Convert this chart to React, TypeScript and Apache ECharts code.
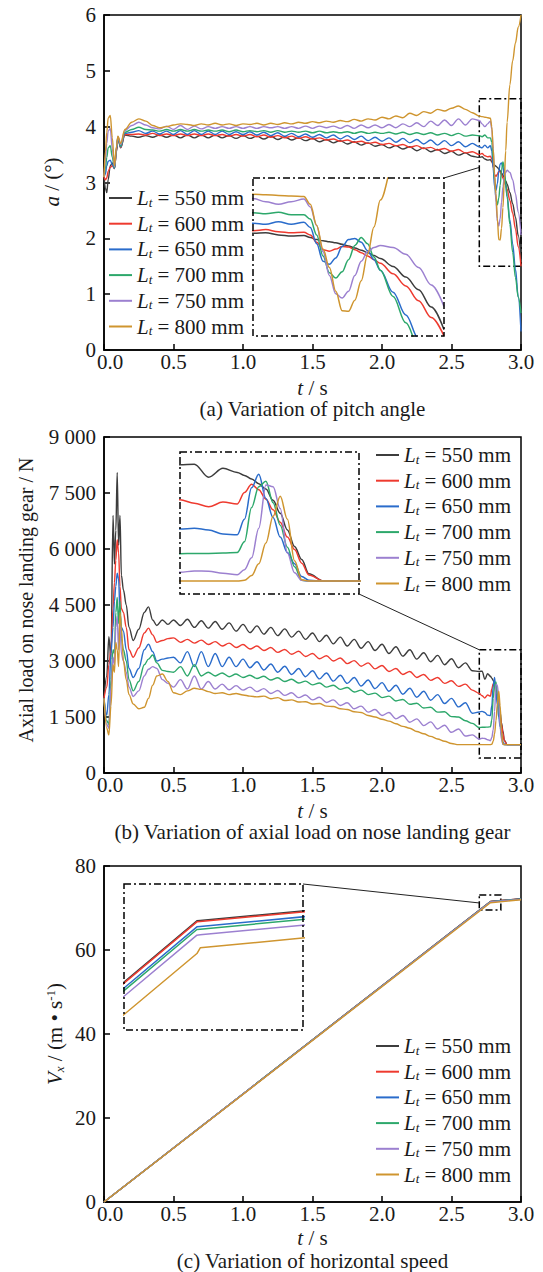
import React, { useEffect, useRef } from 'react';
import * as echarts from 'echarts';

// ---------- series names / colours ----------
const NAMES = ['550', '600', '650', '700', '750', '800'];
const COLORS = ['#3d3d3d', '#ee3a2f', '#2a6ccb', '#2da86b', '#9c80d0', '#cf952f'];

// ---------- (a) pitch angle ----------
const T_A = [
  0, 0.01, 0.02, 0.03, 0.045, 0.06, 0.075, 0.09, 0.1, 0.12, 0.15, 0.2,
  0.25, 0.3, 0.35, 0.4, 0.45, 0.5, 0.55, 0.6, 0.65, 0.7,
  0.75, 0.8, 0.85, 0.9, 0.95, 1.0, 1.05, 1.1, 1.15, 1.2,
  1.25, 1.3, 1.35, 1.4, 1.45, 1.5, 1.55, 1.6, 1.65, 1.7,
  1.75, 1.8, 1.85, 1.9, 1.95, 2.0, 2.05, 2.1, 2.15, 2.2,
  2.25, 2.3, 2.35, 2.4, 2.45, 2.5, 2.55, 2.6, 2.65,
  2.7, 2.72, 2.74, 2.76, 2.78, 2.79, 2.8, 2.81, 2.82, 2.83, 2.84, 2.85, 2.86, 2.87, 2.88, 2.89, 2.9, 2.92, 2.94, 2.96, 2.98, 3.0,
];
const A_550 = [
  3.10, 2.90, 2.82, 3.05, 3.30, 3.35, 3.25, 3.55, 3.80, 3.62, 3.85, 3.83,
  3.81, 3.84, 3.81, 3.85, 3.81, 3.85, 3.80, 3.85, 3.80, 3.85,
  3.80, 3.85, 3.80, 3.84, 3.79, 3.84, 3.79, 3.83, 3.78, 3.83,
  3.77, 3.82, 3.76, 3.80, 3.75, 3.79, 3.73, 3.77, 3.71, 3.75,
  3.69, 3.73, 3.67, 3.71, 3.65, 3.68, 3.62, 3.66, 3.60, 3.64,
  3.57, 3.62, 3.55, 3.59, 3.52, 3.56, 3.49, 3.53, 3.47,
  3.45, 3.46, 3.42, 3.40, 3.41, 3.37, 3.33, 3.31, 3.29, 3.27, 3.24, 3.21, 3.17, 3.13, 3.08, 3.03, 2.97, 2.82, 2.62, 2.38, 2.05, 1.62,
];
const A_600 = [
  3.10, 3.05, 3.08, 3.20, 3.27, 3.30, 3.25, 3.58, 3.80, 3.63, 3.86, 3.86,
  3.87, 3.85, 3.88, 3.84, 3.87, 3.84, 3.87, 3.84, 3.87, 3.84,
  3.87, 3.84, 3.86, 3.83, 3.86, 3.83, 3.86, 3.82, 3.85, 3.81,
  3.84, 3.80, 3.83, 3.79, 3.82, 3.78, 3.80, 3.76, 3.78, 3.74,
  3.76, 3.72, 3.74, 3.70, 3.72, 3.68, 3.70, 3.66, 3.68, 3.63,
  3.66, 3.61, 3.63, 3.58, 3.61, 3.56, 3.59, 3.53, 3.55,
  3.50, 3.52, 3.48, 3.46, 3.47, 3.42, 3.28, 3.14, 3.11, 3.15, 3.20, 3.19, 3.14, 3.08, 3.02, 2.95, 2.88, 2.68, 2.45, 2.17, 1.85, 1.50,
];
const A_650 = [
  3.10, 3.15, 3.30, 3.38, 3.40, 3.32, 3.25, 3.60, 3.80, 3.64, 3.88, 3.90,
  3.93, 3.88, 3.92, 3.87, 3.92, 3.86, 3.93, 3.86, 3.93, 3.86,
  3.92, 3.86, 3.92, 3.86, 3.91, 3.86, 3.91, 3.85, 3.90, 3.84,
  3.89, 3.83, 3.88, 3.82, 3.87, 3.81, 3.86, 3.80, 3.85, 3.78,
  3.84, 3.77, 3.83, 3.75, 3.81, 3.74, 3.80, 3.72, 3.79, 3.71,
  3.77, 3.69, 3.76, 3.67, 3.75, 3.66, 3.73, 3.64, 3.70,
  3.64, 3.62, 3.67, 3.62, 3.66, 3.56, 3.25, 2.92, 2.86, 2.98, 3.20, 3.33, 3.35, 3.28, 3.12, 2.95, 2.75, 2.33, 1.90, 1.45, 0.95, 0.33,
];
const A_700 = [
  3.10, 3.25, 3.45, 3.62, 3.66, 3.45, 3.26, 3.62, 3.81, 3.65, 3.90, 3.95,
  3.99, 3.95, 3.94, 3.92, 3.95, 3.92, 3.95, 3.92, 3.95, 3.92,
  3.94, 3.92, 3.94, 3.91, 3.94, 3.91, 3.93, 3.91, 3.93, 3.90,
  3.93, 3.90, 3.92, 3.90, 3.92, 3.89, 3.92, 3.89, 3.91, 3.89,
  3.91, 3.88, 3.91, 3.88, 3.90, 3.88, 3.90, 3.87, 3.90, 3.86,
  3.89, 3.86, 3.89, 3.85, 3.88, 3.84, 3.88, 3.83, 3.85,
  3.84, 3.82, 3.85, 3.80, 3.80, 3.72, 3.42, 3.02, 2.70, 2.60, 2.72, 2.95, 3.22, 3.37, 3.25, 3.00, 2.75, 2.25, 1.75, 1.30, 0.95, 0.66,
];
const A_750 = [
  3.10, 3.40, 3.70, 3.92, 3.97, 3.60, 3.28, 3.63, 3.82, 3.68, 3.93, 4.02,
  4.08, 4.03, 3.98, 3.96, 4.01, 3.95, 4.02, 3.95, 4.01, 3.96,
  4.00, 3.97, 4.00, 3.97, 4.00, 3.97, 4.00, 3.97, 4.00, 3.98,
  4.00, 3.97, 4.00, 3.97, 4.01, 3.97, 4.01, 3.98, 4.01, 3.97,
  4.02, 3.97, 4.03, 3.98, 4.03, 3.98, 4.04, 3.98, 4.05, 4.00,
  4.07, 4.00, 4.10, 4.02, 4.12, 4.02, 4.14, 4.03, 4.14,
  4.11, 4.05, 4.00, 4.05, 4.10, 3.95, 3.60, 3.10, 2.65, 2.30, 2.22, 2.35, 2.65, 2.92, 3.10, 3.18, 3.22, 3.18, 3.05, 2.80, 2.47, 2.06,
];
const A_800 = [
  3.10, 3.55, 3.90, 4.15, 4.20, 3.80, 3.30, 3.65, 3.83, 3.70, 3.95, 4.08,
  4.14, 4.10, 4.02, 3.98, 4.00, 4.03, 4.05, 4.04, 4.02, 4.05,
  4.03, 4.06, 4.03, 4.05, 4.02, 4.05, 4.04, 4.06, 4.03, 4.06,
  4.04, 4.07, 4.05, 4.08, 4.06, 4.09, 4.07, 4.10, 4.08, 4.11,
  4.09, 4.13, 4.10, 4.14, 4.12, 4.17, 4.14, 4.19, 4.16, 4.24,
  4.20, 4.27, 4.24, 4.31, 4.28, 4.33, 4.37, 4.31, 4.25,
  4.19, 4.18, 4.17, 4.16, 4.15, 4.00, 3.60, 3.15, 2.80, 2.35, 1.98, 1.97, 2.18, 2.55, 3.05, 3.57, 4.08, 4.75, 5.18, 5.50, 5.78, 6.00,
];

// ---------- (b) axial load ----------
const T_B = [
  0, 0.02, 0.035, 0.05, 0.065, 0.075, 0.085, 0.095, 0.105, 0.115, 0.125, 0.14, 0.16, 0.18, 0.21, 0.25, 0.29, 0.32, 0.35, 0.38, 0.42, 0.46,
  0.5, 0.55, 0.6, 0.65, 0.7, 0.75, 0.8, 0.85, 0.9, 0.95,
  1.0, 1.05, 1.1, 1.15, 1.2, 1.25, 1.3, 1.35, 1.4, 1.45,
  1.5, 1.55, 1.6, 1.65, 1.7, 1.75, 1.8, 1.85, 1.9, 1.95,
  2.0, 2.05, 2.1, 2.15, 2.2, 2.25, 2.3, 2.35, 2.4, 2.45,
  2.5, 2.55, 2.6, 2.65,
  2.7, 2.72, 2.74, 2.76, 2.78, 2.79, 2.8, 2.81, 2.82, 2.83, 2.84, 2.85, 2.86, 2.87, 2.88, 2.9, 2.95, 3.0,
];
const B_550 = [
  2000, 2600, 3650, 3050, 6900, 5600, 6500, 8050, 6100, 6900, 5300, 4900, 4500, 3900, 3550, 3850, 4300, 4450, 4100, 3950, 4100, 3980,
  4100, 3950, 4120, 3900, 4080, 3880, 4060, 3850, 4020, 3800,
  3980, 3760, 3940, 3720, 3900, 3680, 3860, 3640, 3800, 3580,
  3750, 3520, 3690, 3460, 3640, 3400, 3580, 3340, 3520, 3280,
  3450, 3200, 3380, 3130, 3300, 3050, 3220, 2980, 3150, 2900,
  3060, 2820, 2950, 2740,
  2720, 2730, 2510, 2660, 2590, 2540, 2480, 2400, 2310, 2120, 1900, 1620, 1340, 1120, 880, 760, 760, 760,
];
const B_600 = [
  2000, 2300, 2900, 3300, 4400, 5100, 5700, 6250, 5900, 5000, 4400, 4300, 3900, 3300, 3100, 3350, 3750, 3880, 3700, 3500, 3550, 3600,
  3620, 3500, 3580, 3480, 3560, 3440, 3520, 3400, 3480, 3360,
  3440, 3320, 3400, 3280, 3360, 3230, 3310, 3180, 3260, 3120,
  3200, 3060, 3140, 3000, 3080, 2930, 3010, 2860, 2950, 2790,
  2880, 2720, 2800, 2640, 2720, 2560, 2640, 2480, 2560, 2400,
  2470, 2320, 2380, 2220,
  2130, 2070, 2010, 2090, 2060, 2250, 2390, 2300, 2140, 1960, 1750, 1500, 1290, 1060, 860, 760, 760, 760,
];
const B_650 = [
  2000, 1550, 2100, 3200, 3900, 4600, 5000, 5350, 5200, 4300, 3900, 3800, 3300, 2800, 2560, 2800, 3300, 3450, 3250, 3000, 3050, 3080,
  3100, 2950, 3250, 2850, 3250, 2850, 3200, 2850, 3100, 2850,
  3050, 2820, 2980, 2760, 2920, 2700, 2860, 2640, 2800, 2580,
  2740, 2520, 2680, 2460, 2620, 2400, 2560, 2330, 2490, 2260,
  2420, 2190, 2350, 2110, 2270, 2030, 2190, 1950, 2100, 1860,
  2000, 1770, 1880, 1600,
  1635, 1650, 1620, 1550, 1540, 1800, 2330, 2560, 2150, 1830, 1500, 1240, 1050, 835, 770, 760, 760, 760,
];
const B_700 = [
  2000, 1400, 1300, 2500, 3300, 3200, 4300, 4700, 4000, 4600, 3600, 3300, 3000, 2500, 2200, 2450, 2900, 3050, 3160, 2950, 2750, 2720,
  2700, 2850, 2600, 2900, 2600, 2700, 2600, 2680, 2580, 2650,
  2560, 2620, 2530, 2590, 2490, 2550, 2450, 2510, 2410, 2460,
  2360, 2410, 2300, 2350, 2240, 2290, 2170, 2220, 2100, 2140,
  2020, 2060, 1930, 1970, 1840, 1870, 1740, 1760, 1630, 1640,
  1510, 1500, 1400, 1330,
  1220, 1225, 1225, 1230, 1240, 1420, 2000, 2350, 2440, 2080, 1700, 1330, 1000, 770, 760, 760, 760, 760,
];
const B_750 = [
  2000, 1300, 1200, 2300, 3100, 2900, 3900, 4200, 3300, 4100, 3200, 3000, 2700, 2300, 2050, 2200, 2600, 2780, 2850, 2800, 2500, 2400,
  2300, 2500, 2250, 2600, 2250, 2450, 2250, 2380, 2230, 2340,
  2220, 2300, 2180, 2260, 2130, 2210, 2080, 2150, 2020, 2090,
  1960, 2030, 1890, 1960, 1810, 1880, 1720, 1790, 1630, 1700,
  1540, 1620, 1450, 1540, 1360, 1450, 1270, 1370, 1180, 1280,
  1090, 1180, 990, 1020,
  905, 930, 925, 890, 865, 950, 1150, 1650, 2380, 2350, 1980, 1230, 900, 770, 760, 760, 760, 760,
];
const B_800 = [
  2000, 1200, 1020, 1800, 2900, 2700, 3500, 3300, 2850, 4300, 3900, 3000, 2500, 2100, 1850, 1720, 1760, 2000, 2350, 2600, 2650, 2450,
  2150, 2100, 2200, 2270, 2240, 2180, 2130, 2150, 2100, 2130,
  2090, 2060, 2040, 2060, 1990, 2020, 1940, 1960, 1900, 1910,
  1850, 1860, 1790, 1780, 1720, 1700, 1640, 1620, 1540, 1500,
  1440, 1390, 1320, 1250, 1200, 1110, 1050, 980, 910, 850,
  790, 760, 760, 760,
  760, 760, 760, 760, 760, 770, 850, 1050, 1400, 1850, 2190, 1800, 1100, 780, 760, 760, 760, 760,
];

// ---------- (c) horizontal speed ----------
const T_C = [0, 2.78, 2.781, 3.0];
const C_550 = [0, 71.56, 71.563, 72.19];
const C_600 = [0, 71.55, 71.553, 72.18];
const C_650 = [0, 71.504, 71.507, 72.14];
const C_700 = [0, 71.479, 71.482, 72.118];
const C_750 = [0, 71.427, 71.43, 72.066];
const C_800 = [0, 71.257, 71.31, 71.949];

const PANELS = [
  { t: T_A, s: [A_550, A_600, A_650, A_700, A_750, A_800], smooth: 0.35 },
  { t: T_B, s: [B_550, B_600, B_650, B_700, B_750, B_800], smooth: 0.35 },
  { t: T_C, s: [C_550, C_600, C_650, C_700, C_750, C_800], smooth: false },
];

// ---------- layout ----------
const FONT = 'Liberation Serif, DejaVu Serif, serif';
const TXT = '#1a1a1a';
const FS = 21;
const PL = 104;
const PR = 22;
const MAIN = [
  { top: 15, height: 335, ymax: 6, yint: 1 },
  { top: 437, height: 336, ymax: 9000, yint: 1500 },
  { top: 866, height: 336, ymax: 80, yint: 20 },
];
const INSET = [
  { left: 253, top: 178, width: 191, height: 158, x: [2.7, 3.0], y: [1.5, 4.5] },
  { left: 180, top: 452, width: 179, height: 142, x: [2.7, 2.95], y: [540, 2935] },
  { left: 124, top: 884, width: 179, height: 146, x: [2.758, 2.812], y: [70.55, 71.9] },
];
const BOXES = [
  [[2.7, 4.5], [3.0, 1.5]],
  [[2.7, 3300], [3.0, 400]],
  [[2.7, 73.1], [2.855, 69.5]],
];
const LINK_TARGET = [[2.7, 3.27], [2.7, 3300], [2.7, 71.2]];
const LEGEND_POS = [
  { left: 109, top: 187.5 },
  { left: 376, top: 444.5 },
  { left: 376, top: 1035.5 },
];
const CAPTION_Y = [[387.5, 409], [810.5, 832], [1238, 1261]];

const fmtThousands = (v: number) => {
  if (v < 1000) return String(v);
  const th = Math.floor(v / 1000);
  const r = String(v % 1000).padStart(3, '0');
  return `${th} ${r}`;
};

const zip = (t: number[], v: number[]) => t.map((x, i) => [x, v[i]]);

export default function App() {
  const ref = useRef<HTMLDivElement>(null);
  useEffect(() => {
    const chart = echarts.init(ref.current as HTMLDivElement, null, { renderer: 'svg' });

    const grid: any[] = [];
    const xAxis: any[] = [];
    const yAxis: any[] = [];
    const series: any[] = [];
    const legend: any[] = [];

    const axisCommon = {
      axisLine: { lineStyle: { color: '#000', width: 1.5 } },
      axisTick: { inside: true, length: 6, lineStyle: { color: '#000', width: 1.5 } },
      splitLine: { show: false },
    };

    MAIN.forEach((m, p) => {
      grid.push({
        left: PL, right: PR, top: m.top, height: m.height,
        show: true, borderColor: '#000', borderWidth: 1.5, backgroundColor: 'transparent',
      });
      const ins = INSET[p];
      grid.push({ left: ins.left, top: ins.top, width: ins.width, height: ins.height });

      xAxis.push({
        type: 'value', gridIndex: 2 * p, min: 0, max: 3, interval: 0.5, ...axisCommon,
        axisLabel: {
          fontFamily: FONT, fontSize: FS, lineHeight: 20, color: TXT, margin: 2,
          formatter: (v: number) => (v === 0 ? '{f|0.0}' : v.toFixed(1)),
          rich: { f: { fontFamily: FONT, fontSize: FS, lineHeight: 20, color: TXT, padding: [0, 0, 0, 12] } },
        },
      });
      xAxis.push({ type: 'value', gridIndex: 2 * p + 1, min: ins.x[0], max: ins.x[1], show: false });
      yAxis.push({
        type: 'value', gridIndex: 2 * p, min: 0, max: m.ymax, interval: m.yint, ...axisCommon,
        axisLabel: {
          fontFamily: FONT, fontSize: FS, color: TXT, margin: 8,
          formatter: p === 1 ? (v: number) => fmtThousands(v) : (v: number) => String(v),
        },
      });
      yAxis.push({ type: 'value', gridIndex: 2 * p + 1, min: ins.y[0], max: ins.y[1], show: false });

      const pn = PANELS[p];
      pn.s.forEach((arr, i) => {
        const base = {
          type: 'line', name: NAMES[i], data: zip(pn.t, arr), showSymbol: false, symbol: 'none',
          smooth: pn.smooth, smoothMonotone: 'x', color: COLORS[i],
          lineStyle: { color: COLORS[i], width: 1.4 }, itemStyle: { color: COLORS[i] },
          clip: true, silent: true,
        };
        const main: any = { ...base, xAxisIndex: 2 * p, yAxisIndex: 2 * p };
        if (i === 0) {
          const b = BOXES[p];
          main.markArea = {
            silent: true,
            itemStyle: { color: 'rgba(0,0,0,0)', borderColor: '#000', borderWidth: 1.5, borderType: [7, 3, 2, 3] },
            data: [[{ xAxis: b[0][0], yAxis: b[0][1] }, { xAxis: b[1][0], yAxis: b[1][1] }]],
          };
        }
        series.push(main);
        series.push({ ...base, xAxisIndex: 2 * p + 1, yAxisIndex: 2 * p + 1, lineStyle: { color: COLORS[i], width: 1.5 } });
      });

      legend.push({
        ...LEGEND_POS[p], orient: 'vertical', padding: 0, itemGap: 4.7, itemWidth: 23, itemHeight: 2,
        selectedMode: false,
        data: NAMES.map((n) => ({ name: n, icon: 'rect' })),
        formatter: (n: string) => `{i|L}{s|t}{n| = ${n} mm}`,
        textStyle: {
          fontFamily: FONT, fontSize: FS, color: TXT,
          rich: {
            i: { fontFamily: FONT, fontSize: FS, fontStyle: 'italic', color: TXT, lineHeight: 21 },
            s: { fontFamily: FONT, fontSize: 13, fontStyle: 'italic', color: TXT, lineHeight: 21, verticalAlign: 'bottom' },
            n: { fontFamily: FONT, fontSize: FS, color: TXT, lineHeight: 21 },
          },
        },
      });
    });

    chart.setOption({ animation: false, backgroundColor: '#fff', grid, xAxis, yAxis, series, legend });

    const txt = (x: number, y: number, text: string, rot = 0, rich: any = {}, fs = FS) => ({
      type: 'text', x, y, rotation: rot, z: 20,
      style: {
        text, fontFamily: FONT, fontSize: fs, lineHeight: fs, fill: TXT, align: 'center', verticalAlign: 'middle', rich,
      },
    });
    const it = { fontFamily: FONT, fontSize: FS, fontStyle: 'italic', fill: TXT, color: TXT, lineHeight: 20 };
    const sub = { fontFamily: FONT, fontSize: 13, fontStyle: 'italic', fill: TXT, color: TXT, verticalAlign: 'bottom', lineHeight: 22 };
    const sup = { fontFamily: FONT, fontSize: 13, fill: TXT, color: TXT, verticalAlign: 'top', lineHeight: 22 };
    const nm = { fontFamily: FONT, fontSize: FS, fill: TXT, color: TXT, lineHeight: 20 };
    const nm22 = { ...nm, lineHeight: 22 };
    const cx = PL + (543 - PL - PR) / 2;
    const CAPTIONS = [
      '(a) Variation of pitch angle',
      '(b) Variation of axial load on nose landing gear',
      '(c) Variation of horizontal speed',
    ];

    const graphic: any[] = [
      txt(52, 182, '{i|a}{n| / (°)}', Math.PI / 2, { i: it, n: nm }),
      txt(26, 600, 'Axial load on nose landing gear / N', Math.PI / 2, {}, 20),
      txt(55, 1034, '{i|V}{s|x}{n| / (m • s}{p|-1}{n|)}', Math.PI / 2, { i: it, s: sub, n: nm22, p: sup }),
    ];
    CAPTION_Y.forEach((cy, p) => {
      graphic.push(txt(cx, cy[0], '{i|t}{n| / s}', 0, { i: it, n: nm }));
      graphic.push(txt(cx, cy[1], CAPTIONS[p]));
    });

    INSET.forEach((ins, p) => {
      graphic.push({
        type: 'rect', z: 15, silent: true,
        shape: { x: ins.left, y: ins.top, width: ins.width, height: ins.height },
        style: { fill: 'none', stroke: '#000', lineWidth: 1.5, lineDash: [7, 3, 2, 3] },
      });
      const target = chart.convertToPixel({ gridIndex: 2 * p } as any, LINK_TARGET[p]) as number[];
      const from = p === 1 ? [ins.left + ins.width, ins.top + ins.height] : [ins.left + ins.width, ins.top];
      graphic.push({
        type: 'line', z: 15, silent: true,
        shape: { x1: from[0], y1: from[1], x2: target[0], y2: target[1] },
        style: { stroke: '#222', lineWidth: 1 },
      });
    });

    chart.setOption({ graphic });
    return () => chart.dispose();
  }, []);
  return (
    <div
      ref={ref}
      style={{ position: 'absolute', left: 0, top: 0, width: 543, height: 1272, background: '#fff' }}
    />
  );
}
